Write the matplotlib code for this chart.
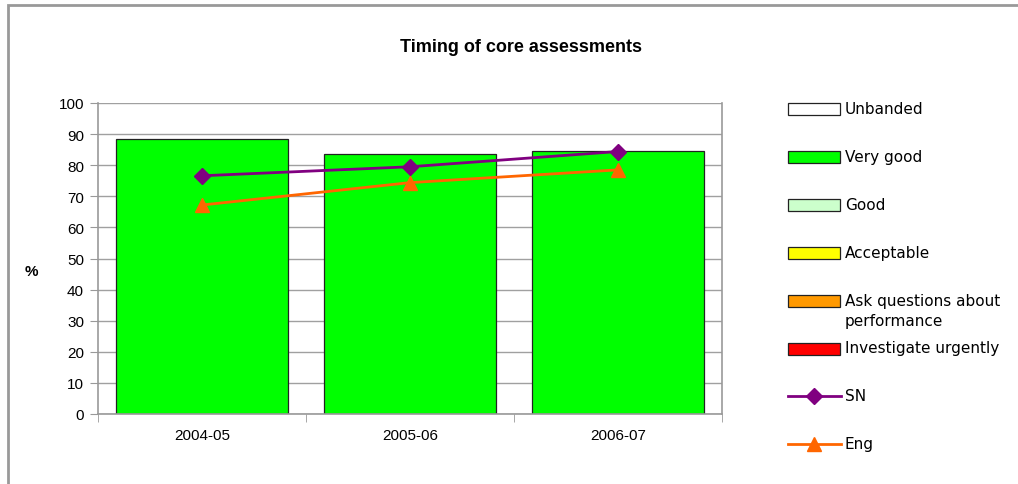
import numpy as np
import matplotlib.pyplot as plt
from matplotlib.patches import Rectangle
from matplotlib.lines import Line2D

years = ['2004-05', '2005-06', '2006-07']
very_good = [88.4, 83.5, 84.5]
sn = [76.6, 79.5, 84.4]
eng = [67.2, 74.4, 78.5]

band_names = ['Unbanded', 'Very good', 'Good', 'Acceptable',
              'Ask questions about\nperformance', 'Investigate urgently']
band_colors = ['#ffffff', '#00ff00', '#ccffcc', '#ffff00', '#ff9900', '#ff0000']

W, H = 1018, 485
fig = plt.figure(figsize=(W / 100, H / 100), dpi=100, facecolor='white')
ax = fig.add_axes([98 / W, 1 - 415 / H, (722 - 98) / W, (415 - 104) / H])


def px(x, y):
    # pixel position (from top-left) -> figure fraction
    return x / W, 1 - y / H


x = np.arange(len(years))
ax.bar(x, very_good, width=0.83, color='#00ff00', edgecolor='#222222',
       linewidth=0.9, zorder=2)
ax.plot(x, sn, color='#800080', lw=2, marker='D', ms=8, zorder=3)
ax.plot(x, eng, color='#ff6600', lw=2, marker='^', ms=10, zorder=3)

ax.set_xlim(-0.5, 2.5)
ax.set_ylim(0, 100)
ax.set_yticks(range(0, 101, 10))
ax.set_xticks(x)
ax.set_xticklabels(years, fontsize=11, family='Liberation Sans')
ax.set_xticks([-0.5, 0.5, 1.5, 2.5], minor=True)
ax.tick_params(axis='x', which='major', length=0, pad=10)
ax.tick_params(axis='x', which='minor', length=6, color='#999999', direction='out')
ax.tick_params(axis='y', length=6, color='#999999', labelsize=11, pad=4)
for t in ax.get_yticklabels():
    t.set_family('Liberation Sans')
ax.grid(axis='y', color='#a0a0a0', lw=1, zorder=0)
ax.set_axisbelow(True)
for s in ['left', 'bottom', 'right']:
    ax.spines[s].set_color('#999999')
    ax.spines[s].set_linewidth(1.2)
ax.spines['top'].set_visible(False)

fig.text(*px(31, 272), '%', fontsize=11, fontweight='bold',
         family='Liberation Sans', ha='center', va='center')
fig.text(*px(521, 47), 'Timing of core assessments', fontsize=13,
         fontweight='bold', family='Liberation Sans', ha='center', va='center')

# legend drawn by hand, Excel style
labels = band_names + ['SN', 'Eng']
for i, lab in enumerate(labels):
    yc = 110 + 47.9 * i
    if i < len(band_colors):
        x0, y0 = px(788, yc + 6)
        fig.add_artist(Rectangle((x0, y0), 52 / W, 12 / H, transform=fig.transFigure,
                                 facecolor=band_colors[i], edgecolor='#222222', lw=0.9))
    else:
        col, mk, ms = [('#800080', 'D', 8), ('#ff6600', '^', 10)][i - len(band_colors)]
        xa, ya = px(788, yc)
        xb, _ = px(841, yc)
        fig.add_artist(Line2D([xa, xb], [ya, ya], transform=fig.transFigure,
                              color=col, lw=2))
        fig.add_artist(Line2D([(xa + xb) / 2], [ya], transform=fig.transFigure,
                              color=col, marker=mk, ms=ms))
    fig.text(*px(845, yc - 8), lab, fontsize=11, family='DejaVu Sans',
             ha='left', va='top', linespacing=1.45)

fig.add_artist(Rectangle((8 / W, -0.1), 1.2, 1 - 6 / H + 0.1, transform=fig.transFigure,
                         fill=False, edgecolor='#999999', lw=2))

fig.savefig('out.png', dpi=100)
